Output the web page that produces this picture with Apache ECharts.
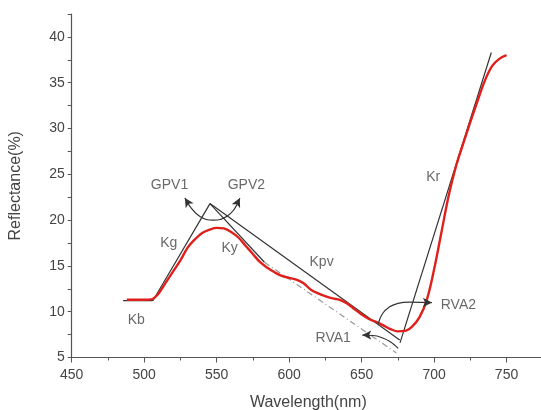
<!DOCTYPE html>
<html>
<head>
<meta charset="utf-8">
<script src="https://cdn.jsdelivr.net/npm/echarts@6/dist/echarts.min.js"></script>
<style>
  html, body { margin: 0; padding: 0; background: #fff; }
  #chart { width: 541px; height: 410px; }
</style>
</head>
<body>
<div id="chart"></div>
<script>
// measured reflectance curve (red)
var wavelength = [488, 495, 500, 505, 510, 515, 520, 525, 530, 535, 540, 545, 550, 555, 560, 565, 570, 575, 580, 585,
  590, 595, 600, 605, 610, 615, 620, 625, 630, 635, 640, 645, 650, 655, 660, 665, 670, 675, 680, 685,
  690, 695, 700, 705, 710, 715, 720, 725, 730, 735, 740, 745, 750]
var reflectance = [11.3, 11.3, 11.3, 11.35, 12.0, 13.2, 14.4, 15.6, 17.0, 17.9, 18.6, 18.95, 19.15, 19.1, 18.7, 18.1, 17.2, 16.3, 15.4, 14.8,
  14.3, 13.9, 13.7, 13.5, 13.1, 12.4, 12.0, 11.7, 11.45, 11.3, 10.9, 10.3, 9.7, 9.2, 8.9, 8.5, 8.1, 7.85, 7.9, 8.4,
  9.4, 11.3, 14.6, 18.6, 22.6, 25.8, 28.3, 30.7, 33.0, 35.2, 36.8, 37.6, 38.0]

// tangent lines
var kbLine = [[485.5, 11.2], [506, 11.2]]
var kgLine = [[506, 11.2], [545.4, 21.8]]
var kyLine = [[545.4, 21.8], [583, 15.4]]
var kyDash = [[583, 15.4], [674, 5.5]]
var kpvLine = [[545.4, 21.8], [676.3, 6.9]]
var krLine = [[676.5, 6.6], [739.5, 38.3]]

// annotation arcs
var rva2Arc = [[661.5, 8.7], [664.5, 9.8], [669, 10.5], [675, 10.9], [683, 11.05], [698.5, 11.0]]
var rva1Arc = [[650.5, 7.45], [658, 7.4], [665, 7.1], [670, 6.7], [673.2, 6.3], [675.2, 6.0]]
var gpvArc = [[528.1, 22.4], [531.6, 21.5], [538.5, 20.4], [547.7, 20.0], [556.9, 20.4], [562.6, 21.3], [566, 22.4]]

// labels
var labelNames = ['GPV1', 'GPV2', 'Kg', 'Ky', 'Kpv', 'Kr', 'Kb', 'RVA2', 'RVA1']
var labelPos = [[517.5, 23.8], [570.5, 23.8], [517, 17.5], [559, 16.9], [622.4, 15.4], [699.4, 24.7], [494.6, 9.1], [716.8, 10.7], [630.4, 7.1]]

var xTicks = [450, 500, 550, 600, 650, 700, 750]
var yTicks = [5, 10, 15, 20, 25, 30, 35, 40]

var chart = echarts.init(document.getElementById('chart'))
var font = 'Liberation Sans, Arial, sans-serif'
var ink = '#333'

function blackLine(data, extra) {
    var s = {
        type: 'line',
        data: data,
        symbol: 'none',
        silent: true,
        lineStyle: { color: ink, width: 1.2 },
        z: 3,
    }
    return Object.assign(s, extra || {})
}

// arc with arrow heads on chosen ends
function arrowArc(points, heads) {
    return blackLine(points.map(function (p, i) {
        if (heads[i] !== undefined) {
            return { value: p, symbol: 'arrow', symbolSize: [7, 9], symbolRotate: heads[i], itemStyle: { color: ink } }
        }
        return { value: p, symbol: 'none' }
    }), { smooth: 0.5, showSymbol: true, z: 5 })
}

var option = {
    animation: false,
    grid: { left: 71.7, width: 507.3, top: 14, height: 343.5, outerBoundsMode: 'none', containLabel: false },
    xAxis: {
        type: 'value',
        min: 450,
        max: 800,
        interval: 50,
        name: 'Wavelength(nm)',
        nameLocation: 'middle',
        nameGap: 37,
        nameTextStyle: { fontFamily: font, fontSize: 16, color: '#444', padding: [0, 34, 0, 0] },
        axisLine: { lineStyle: { color: '#555', width: 1.2 } },
        axisTick: { length: 5, lineStyle: { color: '#555' } },
        minorTick: { show: true, splitNumber: 2, length: 3, lineStyle: { color: '#555' } },
        splitLine: { show: false },
        axisLabel: {
            fontFamily: font, fontSize: 14, color: '#444', margin: 11,
            formatter: function (v) { return xTicks.indexOf(v) >= 0 ? String(v) : '' },
        },
    },
    yAxis: {
        type: 'value',
        min: 5,
        max: 42.5,
        interval: 2.5,
        name: 'Reflectance(%)',
        nameLocation: 'middle',
        nameGap: 48,
        nameTextStyle: { fontFamily: font, fontSize: 16, color: '#444' },
        axisLine: { show: true, lineStyle: { color: '#555', width: 1.2 } },
        axisTick: { length: 4, lineStyle: { color: '#555' } },
        splitLine: { show: false },
        axisLabel: {
            fontFamily: font, fontSize: 14, color: '#444', margin: 7,
            formatter: function (v) { return yTicks.indexOf(v) >= 0 ? String(v) : '' },
        },
    },
    series: [
        blackLine(kbLine),
        blackLine(kgLine),
        blackLine(kyLine),
        blackLine(kpvLine),
        blackLine(krLine),
        blackLine(kyDash, { lineStyle: { color: '#999', width: 1.2, type: [6, 3, 1, 3] } }),
        {
            type: 'line',
            data: wavelength.map(function (w, i) { return [w, reflectance[i]] }),
            smooth: 0.35,
            symbol: 'none',
            lineStyle: { color: '#e0201c', width: 2.4 },
            z: 4,
        },
        arrowArc(rva2Arc, { 5: -90 }),
        arrowArc(rva1Arc, { 0: 90 }),
        arrowArc(gpvArc, { 0: 32, 6: -26 }),
        {
            type: 'scatter',
            silent: true,
            symbolSize: 0,
            data: labelNames.map(function (n, i) { return { name: n, value: labelPos[i] } }),
            label: {
                show: true,
                position: 'inside',
                formatter: '{b}',
                fontFamily: font,
                fontSize: 14,
                color: '#444',
            },
            z: 6,
        },
    ],
}
chart.setOption(option)
window.addEventListener('resize', chart.resize)
</script>
</body>
</html>
